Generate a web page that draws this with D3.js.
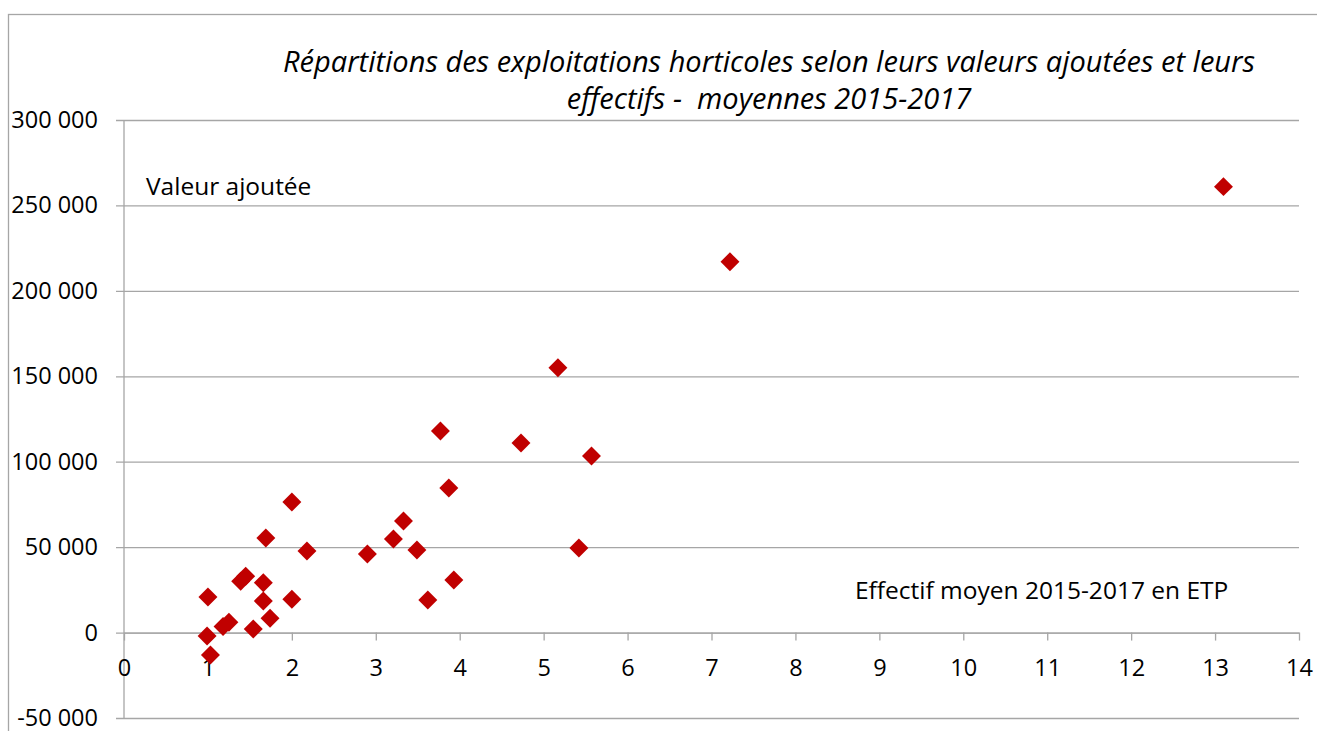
<!DOCTYPE html>
<html>
<head>
<meta charset="utf-8">
<script src="https://cdn.jsdelivr.net/npm/d3@7"></script>
<style>
  body { margin: 0; background: #fff; }
  svg text { font-family: "Open Sans", sans-serif; }
</style>
</head>
<body>
<svg id="canvas" width="1317" height="731"></svg>
<script>
// effectif moyen (ETP) and valeur ajoutée
var effectifs = [13.1, 7.22, 5.17, 3.77, 4.73, 5.57, 3.87, 2.0, 3.33, 1.69, 3.21, 2.18, 3.49, 2.9, 5.42,
                 3.93, 3.62, 1.0, 1.39, 1.45, 1.66, 1.66, 2.0, 1.74, 1.54, 1.18, 1.25, 0.99, 1.03];
var valeurs = [261000, 217000, 155000, 118000, 111000, 103400, 84600, 76400, 65300, 55400, 54800, 47800, 48300, 46000, 49500,
               30800, 19100, 20800, 30000, 33000, 29200, 18500, 19500, 8400, 2100, 3500, 6000, -2000, -13100];
var xTicks = d3.range(0, 15);
var yTicks = [-50000, 0, 50000, 100000, 150000, 200000, 250000, 300000];
var titleLines = ["Répartitions des exploitations horticoles selon leurs valeurs ajoutées et leurs",
                  "effectifs -  moyennes 2015-2017"];
var yLabel = "Valeur ajoutée";
var xLabel = "Effectif moyen 2015-2017 en ETP";

var points = effectifs.map(function (e, i) { return {x: e, y: valeurs[i]}; });

var svg = d3.select('#canvas');
var gray = '#a6a6a6';
var red = '#c00000';
var plot = {left: 124, right: 1299, top: 120, bottom: 718};

// chart frame (runs off the bottom / right of the picture)
svg.append('rect')
  .attr('x', 8.5).attr('y', 14.5)
  .attr('width', 1400).attr('height', 800)
  .attr('fill', 'none').attr('stroke', gray).attr('stroke-width', 1.3);

var x = d3.scaleLinear().domain([0, 14]).range([plot.left, plot.right]);
var y = d3.scaleLinear().domain([-50000, 300000]).range([plot.bottom, plot.top]);

var fmt = function (v) { return d3.format(',')(v).replace(/,/g, ' ').replace('−', '-'); };

// horizontal grid + y labels
var grid = svg.append('g')
  .attr('transform', 'translate(' + plot.right + ',0)')
  .call(d3.axisLeft(y).tickValues(yTicks).tickSize(plot.right - plot.left + 8).tickPadding(18).tickFormat(fmt));
grid.select('.domain').remove();
grid.selectAll('line').attr('stroke', gray).attr('stroke-width', 1.3);
grid.selectAll('text').attr('fill', '#000').style('font-size', '23.5px');

// y axis line
svg.append('line')
  .attr('x1', x(0)).attr('x2', x(0))
  .attr('y1', plot.top).attr('y2', plot.bottom)
  .attr('stroke', gray).attr('stroke-width', 1.3);

// x axis at zero
var xAxis = svg.append('g')
  .attr('transform', 'translate(0,' + y(0) + ')')
  .call(d3.axisBottom(x).tickValues(xTicks).tickSize(8).tickSizeOuter(0).tickPadding(19));
xAxis.select('.domain').attr('stroke', gray).attr('stroke-width', 1.3);
xAxis.selectAll('line').attr('stroke', gray).attr('stroke-width', 1.3);
xAxis.selectAll('text').attr('fill', '#000').style('font-size', '23.5px');

// points
var diamond = d3.symbol().type(d3.symbolSquare).size(180);
svg.append('g').selectAll('path')
  .data(points)
  .enter()
  .append('path')
  .attr('d', diamond)
  .attr('transform', function (d) { return 'translate(' + x(d.x) + ',' + y(d.y) + ') rotate(45)'; })
  .attr('fill', red);

// title
svg.append('g').selectAll('text')
  .data(titleLines)
  .enter()
  .append('text')
  .attr('x', 769)
  .attr('y', function (d, i) { return 72 + i * 37; })
  .attr('text-anchor', 'middle')
  .style('font-size', '29px')
  .style('font-style', 'italic')
  .style('white-space', 'pre')
  .text(function (d) { return d; });

svg.append('text').attr('x', 146).attr('y', 195).style('font-size', '24.5px').text(yLabel);
svg.append('text').attr('x', 855).attr('y', 599).style('font-size', '24.5px').text(xLabel);
</script>
</body>
</html>
